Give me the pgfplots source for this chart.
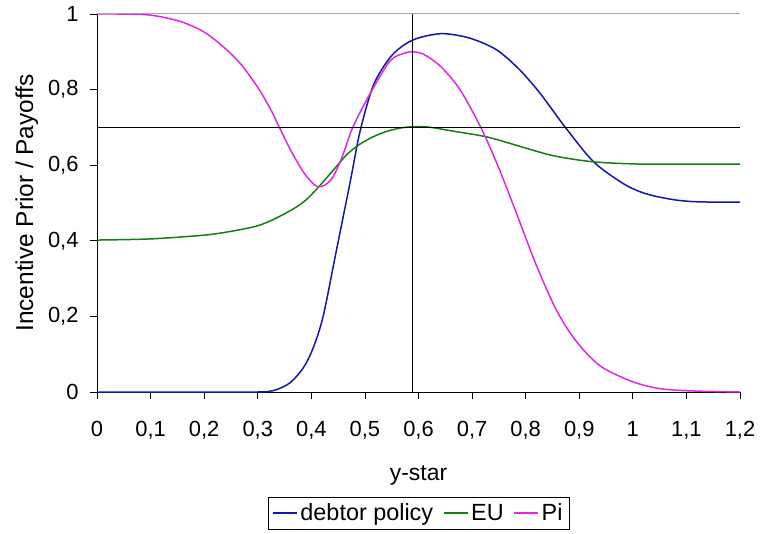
\documentclass[border=0pt]{standalone}
\usepackage{pgfplots}
\pgfplotsset{compat=1.18}
\usepackage{fontspec}
\setmainfont{Liberation Sans}
\definecolor{cblue}{RGB}{20,20,175}
\definecolor{cgreen}{RGB}{20,128,20}
\definecolor{cmag}{RGB}{225,40,225}
\begin{document}
\begin{tikzpicture}
\useasboundingbox (-97bp,-142bp) rectangle (663bp,392bp);
\begin{axis}[
  at={(0,0)}, anchor=south west,
  width=643bp, height=378bp, scale only axis,
  xmin=0, xmax=1.2, ymin=0, ymax=1,
  axis x line*=bottom, axis y line*=left,
  axis line style={black, line width=0.8bp},
  tick align=outside, major tick length=7bp,
  tick style={black, line width=0.8bp},
  xtick={0,0.1,0.2,0.3,0.4,0.5,0.6,0.7,0.8,0.9,1,1.1,1.2},
  xticklabels={0,{0,1},{0,2},{0,3},{0,4},{0,5},{0,6},{0,7},{0,8},{0,9},1,{1,1},{1,2}},
  ytick={0,0.2,0.4,0.6,0.8,1},
  yticklabels={0,{0,2},{0,4},{0,6},{0,8},1},
  ticklabel style={font=\fontsize{22}{24}\selectfont},
  xticklabel style={yshift=-19bp},
  yticklabel style={xshift=-8bp},
  xlabel={y-star}, ylabel={Incentive Prior / Payoffs},
  xlabel style={font=\fontsize{23}{25}\selectfont, at={(axis description cs:0.5,-0.222)}, anchor=center},
  ylabel style={font=\fontsize{24.5}{26}\selectfont, at={(axis description cs:-0.109,0.5)}, anchor=center},
  legend style={at={(0.5,-0.278)}, anchor=north, legend columns=3, draw=black, line width=0.6bp,
    font=\fontsize{23.5}{25}\selectfont, inner xsep=4bp, inner ysep=4bp,
    nodes={inner sep=2.5bp},
    /tikz/every even column/.append style={column sep=7bp}},
  clip=false,
]
\addplot[cblue, line width=1.5bp, smooth,
  legend image code/.code={\draw[color=cblue, draw=cblue, line width=2bp] (0bp,0bp) -- (24bp,0bp);}] coordinates {
(0,0) (0.1,0) (0.2,0) (0.3,0.0) (0.33,0.004) (0.36,0.024) (0.385,0.064) (0.403,0.115)
(0.422,0.2) (0.447,0.376) (0.472,0.552) (0.491,0.69) (0.516,0.812) (0.547,0.885)
(0.575,0.92) (0.603,0.938) (0.646,0.948) (0.696,0.936) (0.746,0.905) (0.789,0.852)
(0.827,0.790) (0.873,0.702) (0.926,0.610) (0.979,0.554) (1.013,0.530) (1.045,0.517)
(1.085,0.507) (1.125,0.503) (1.2,0.502)};
\addlegendentry{debtor policy}
\addplot[cgreen, line width=1.5bp, smooth,
  legend image code/.code={\draw[color=cgreen, draw=cgreen, line width=2bp] (0bp,0bp) -- (24bp,0bp);}] coordinates {
(0,0.402) (0.1,0.405) (0.2,0.415) (0.25,0.425) (0.298,0.439) (0.33,0.457) (0.367,0.485)
(0.39,0.508) (0.414,0.543) (0.441,0.587) (0.467,0.629) (0.49,0.655) (0.515,0.675)
(0.54,0.689) (0.565,0.698) (0.59,0.702) (0.61,0.702) (0.628,0.699) (0.665,0.690)
(0.727,0.675) (0.789,0.650) (0.852,0.625) (0.926,0.609) (1.013,0.603) (1.1,0.603) (1.2,0.603)};
\addlegendentry{EU}
\addplot[cmag, line width=1.5bp, smooth,
  legend image code/.code={\draw[color=cmag, draw=cmag, line width=2bp] (0bp,0bp) -- (24bp,0bp);}] coordinates {
(0,1.0) (0.037,1.0) (0.1,0.997) (0.156,0.98) (0.199,0.953) (0.236,0.913) (0.268,0.868)
(0.299,0.808) (0.324,0.748) (0.339,0.704) (0.361,0.641) (0.386,0.580) (0.405,0.549) (0.414,0.543)
(0.425,0.547) (0.44,0.568) (0.457,0.620) (0.478,0.702) (0.51,0.79) (0.547,0.876)
(0.575,0.897) (0.59,0.90) (0.61,0.893) (0.640,0.863) (0.677,0.801) (0.718,0.695)
(0.752,0.585) (0.783,0.472) (0.82,0.335) (0.858,0.215) (0.895,0.133) (0.94,0.068)
(1.0,0.027) (1.05,0.009) (1.107,0.003) (1.2,0)};
\addlegendentry{Pi}
\addplot[black, line width=0.8bp, forget plot] coordinates {(0,0.7) (1.2,0.7)};
\addplot[black, line width=0.8bp, forget plot] coordinates {(0.588,0) (0.588,1)};
\addplot[gray!70, line width=1bp, forget plot] coordinates {(0,1) (1.2,1)};
\end{axis}
\end{tikzpicture}
\end{document}
